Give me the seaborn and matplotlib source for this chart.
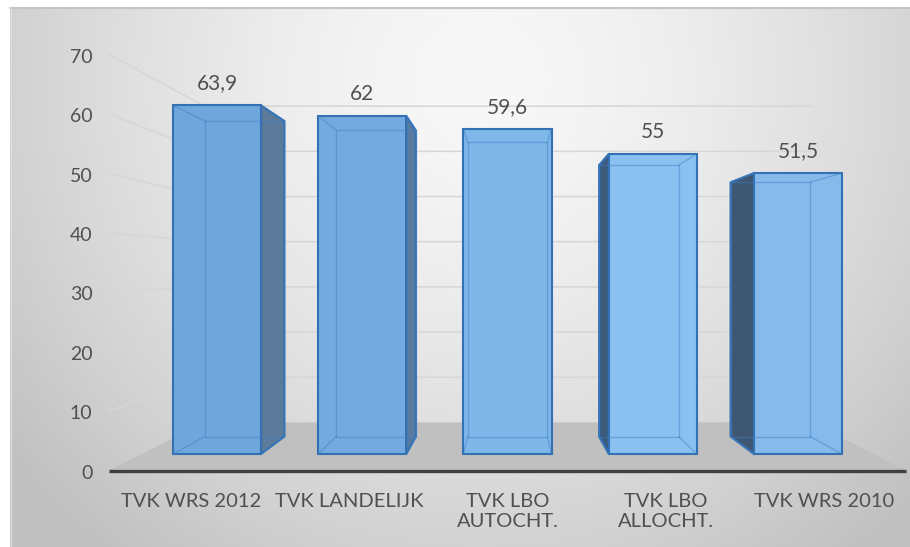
import numpy as np
import pandas as pd
import matplotlib
matplotlib.use("Agg")
import matplotlib.pyplot as plt
import seaborn as sns
from matplotlib.patches import Polygon

# ---------------- data ----------------
categories = ["TVK WRS 2012", "TVK LANDELIJK", "TVK LBO\nAUTOCHT.", "TVK LBO\nALLOCHT.", "TVK WRS 2010"]
values = [63.9, 62.0, 59.6, 55.0, 51.5]
value_labels = ["63,9", "62", "59,6", "55", "51,5"]
y_ticks = [0, 10, 20, 30, 40, 50, 60, 70]

# ---------------- style ----------------
front_colors = ["#6fa6dc", "#74aadf", "#80b7e9", "#8bc1f1", "#85baeb"]
side_colors = ["#5c7b9b", "#587a9e", "#4a6a8c", "#3c5a7a", "#3e5874"]
EDGE = "#3371b3"
TEXT = "#505050"

W, H = 910, 547
sns.set_theme(style="white")
plt.rcParams["font.family"] = ["Lato", "DejaVu Sans"]

fig = plt.figure(figsize=(W / 100, H / 100), dpi=100)

# background gradient (chart area)
bg = fig.add_axes([0, 0, 1, 1])
bg.set_axis_off()
yy, xx = np.mgrid[0:H, 0:W]
d = np.sqrt(((xx - 480) / 560.0) ** 2 + ((yy - 80) / 560.0) ** 2)
val = np.clip(248 - 50 * d ** 1.5, 192, 250) / 255.0
img = np.dstack([val, val, val])
img[:7, :] = 1.0
img[:, :10] = 1.0
bg.imshow(img, extent=(0, W, H, 0), aspect="auto", interpolation="bilinear")
bg.plot([10, W], [7.5, 7.5], color="#c4c4c4", lw=1.5)
bg.plot([10.5, 10.5], [7, H], color="#dcdcdc", lw=1)
bg.set_xlim(0, W)
bg.set_ylim(H, 0)

# main axes: x in category units, y in value units (front plane of bars)
PX0, PXS = 217.0, 145.25
PY0, PYS = 454.0, 5.455
ax = fig.add_axes([0, 0, 1, 1])
ax.patch.set_alpha(0)
sns.barplot(x=categories, y=values, hue=categories, palette=front_colors,
            width=0.606, saturation=1, legend=False, edgecolor=EDGE,
            linewidth=1.5, ax=ax, zorder=3)
bars = sorted(list(ax.patches), key=lambda p: p.get_x())
ax.set_xlim(-PX0 / PXS, (W - PX0) / PXS)
ax.set_ylim((PY0 - H) / PYS, PY0 / PYS)
ax.set_axis_off()

# simple perspective
VX, VY = 2.0, 33.7
S_FRONT, S_BACK, S_WALL = 1.09, 0.905, 0.828


def proj(x, y, s):
    return VX + (x - VX) * s, VY + (y - VY) * s


n = len(categories)
xl, xr = -0.52, n - 1 + 0.52

# floor
floor = [proj(xl, 0, S_FRONT), proj(xr, 0, S_FRONT), proj(xr, 0, S_WALL), proj(xl, 0, S_WALL)]
ax.add_patch(Polygon(floor, closed=True, fc="#c0c0c0", ec="none", zorder=1))
a, b = proj(xl, 0, S_FRONT), proj(xr, 0, S_FRONT)
ax.plot([a[0], b[0]], [a[1], b[1]], color="#404040", lw=2.4, zorder=2,
        solid_capstyle="butt")

# wall gridlines (left wall + back wall)
for t in y_ticks[1:]:
    a = proj(xl, t, S_FRONT)
    b = proj(xl, t, S_WALL)
    c = proj(xr, t, S_WALL)
    ax.plot([a[0], b[0], c[0]], [a[1], b[1], c[1]], color="#d6d6d6", lw=1.1, zorder=1.5)

# y tick labels on the left wall front
for t in y_ticks:
    x, y = proj(xl, t, S_FRONT)
    ax.annotate(str(t), (x, y), xytext=(-11.5, -2), textcoords="offset points",
                ha="right", va="center", fontsize=14, color=TEXT)

# 3D faces of bars
for i, p in enumerate(bars):
    x0 = p.get_x()
    x1 = x0 + p.get_width()
    h = p.get_height()
    cx = x0 + p.get_width() / 2
    FLt, FRt, FLb, FRb = (x0, h), (x1, h), (x0, 0), (x1, 0)
    BLt, BRt = proj(x0, h, S_BACK), proj(x1, h, S_BACK)
    BLb, BRb = proj(x0, 0, S_BACK), proj(x1, 0, S_BACK)
    if cx < VX - 0.01:
        side = [FRt, BRt, BRb, FRb]
    elif cx > VX + 0.01:
        side = [FLt, BLt, BLb, FLb]
    else:
        side = None
    if side is not None:
        ax.add_patch(Polygon(side, closed=True, fc=side_colors[i], ec=EDGE,
                             lw=1.5, zorder=2.5, joinstyle="round"))
    # hidden edges seen through the translucent front
    segs = [(BLt, BRt), (BRt, BRb), (BRb, BLb), (BLb, BLt),
            (FLt, BLt), (FRt, BRt), (FLb, BLb), (FRb, BRb)]
    for s0, s1 in segs:
        ax.plot([s0[0], s1[0]], [s0[1], s1[1]], color="#3f7fc6", lw=1.0,
                alpha=0.45, zorder=4)
    # value label
    ax.annotate(value_labels[i], (cx, h), xytext=(0, 16), textcoords="offset points",
                ha="center", va="center", fontsize=15, color=TEXT)
    # category label on the floor front plane
    lx, ly = proj(cx, 0, S_FRONT)
    ax.annotate(categories[i], (lx, ly), xytext=(0, -16), textcoords="offset points",
                ha="center", va="top", fontsize=14.5, color=TEXT, linespacing=1.2)

fig.savefig("out.png", dpi=100)
